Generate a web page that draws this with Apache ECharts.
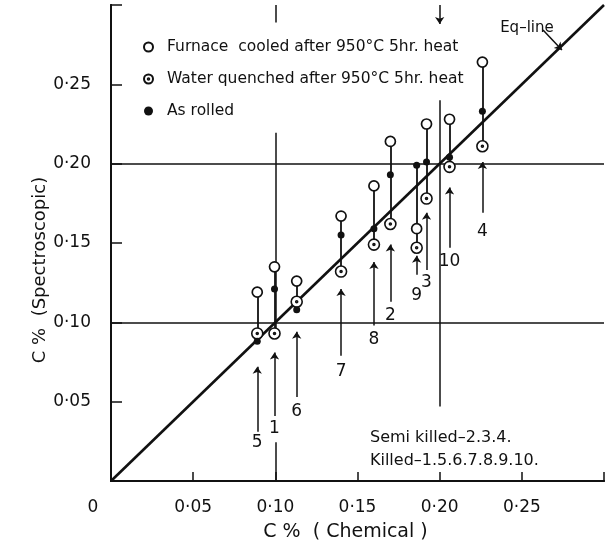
<!DOCTYPE html>
<html>
<head>
<meta charset="utf-8">
<script src="https://cdn.jsdelivr.net/npm/echarts@6/dist/echarts.min.js"></script>
<style>
  html, body { margin: 0; padding: 0; background: #fff; }
  #main_chart { width: 608px; height: 547px; }
</style>
</head>
<body>
<div id="main_chart"></div>
<script>
// 试样编号及化学分析 C%
var sampleNo = ['5', '1', '6', '7', '8', '2', '9', '3', '10', '4'];
var chemical = [0.089, 0.0995, 0.113, 0.140, 0.160, 0.170, 0.186, 0.192, 0.206, 0.226];
// 光谱分析 C%
var furnaceCooled = [0.119, 0.135, 0.126, 0.167, 0.186, 0.214, 0.159, 0.225, 0.228, 0.264];
var waterQuenched = [0.093, 0.093, 0.113, 0.132, 0.149, 0.162, 0.147, 0.178, 0.198, 0.211];
var asRolled = [0.088, 0.121, 0.108, 0.155, 0.159, 0.193, 0.199, 0.201, 0.204, 0.233];

// 编号箭头 (尾, 尖) 和编号位置
var arrowTail = [0.031, 0.041, 0.053, 0.079, 0.098, 0.113, 0.130, 0.133, 0.147, 0.169];
var arrowTip = [0.072, 0.081, 0.094, 0.121, 0.138, 0.149, 0.142, 0.169, 0.185, 0.201];
var labelY = [0.024, 0.033, 0.044, 0.069, 0.089, 0.104, 0.117, 0.125, 0.138, 0.157];

var refLevels = [0.10, 0.20];
// 0.10 / 0.20 处的竖线段
var refSegments = [
    [[0.10, 0.30], [0.10, 0.289]],
    [[0.10, 0.2195], [0.10, 0.093]],
    [[0.10, 0.0245], [0.10, 0]],
    [[0.20, 0.240], [0.20, 0.047]]
];
var topArrow = [[0.20, 0.30], [0.20, 0.288]];
var eqLine = [[0, 0], [0.30, 0.30]];
var eqLeader = [[0.2629, 0.2843], [0.2744, 0.2717]];
var eqLabelPos = [0.2531, 0.2855];
var noteLines = ['Semi killed\u20132.3.4.', 'Killed\u20131.5.6.7.8.9.10.'];
var notePos = [[0.1576, 0.0275], [0.1576, 0.0130]];

var FONT = 'DejaVu Sans';
var INK = '#111';

function fmtTick(v) {
    if (v === 0 || v >= 0.3) {
        return '';
    }
    return '0\u00b7' + Math.round(v * 100).toString().padStart(2, '0');
}

var stems = [];
var arrows = [];
var numLabels = [];
for (var i = 0; i < sampleNo.length; i++) {
    var vals = [furnaceCooled[i], waterQuenched[i], asRolled[i]];
    stems.push({coords: [[chemical[i], Math.min.apply(null, vals)], [chemical[i], Math.max.apply(null, vals)]]});
    arrows.push({coords: [[chemical[i], arrowTail[i]], [chemical[i], arrowTip[i]]]});
    numLabels.push({value: [chemical[i], labelY[i]], name: sampleNo[i]});
}

function pts(ys) {
    return chemical.map(function (x, k) { return [x, ys[k]]; });
}

var ringDot = 'path://M10,1A9,9,0,1,1,9.99,1Z M10,8.4A1.6,1.6,0,1,1,9.99,8.4Z';

var textLabel = function (size, pos) {
    return {show: true, position: pos, distance: 0, formatter: '{b}', fontFamily: FONT, fontSize: size, color: INK, opacity: 1};
};

var option = {
    animation: false,
    backgroundColor: '#fff',
    grid: {left: 111, right: 4, top: 5, bottom: 65},
    legend: {
        orient: 'vertical',
        left: 138,
        top: 34,
        itemWidth: 9,
        itemHeight: 9,
        itemGap: 16,
        selectedMode: false,
        textStyle: {fontFamily: FONT, fontSize: 15.5, color: INK, padding: [0, 0, 0, 9]},
        data: [
            {name: 'Furnace  cooled after 950\u00b0C 5hr. heat', icon: 'circle'},
            {name: 'Water quenched after 950\u00b0C 5hr. heat', icon: ringDot},
            {name: 'As rolled', icon: 'circle'}
        ]
    },
    xAxis: [{
        type: 'value', min: 0, max: 0.3, interval: 0.05,
        axisLine: {lineStyle: {color: INK, width: 2}},
        axisTick: {inside: true, length: 9, lineStyle: {color: INK, width: 1.5}},
        splitLine: {show: false},
        axisLabel: {
            margin: 18, fontSize: 17, color: INK, fontFamily: FONT,
            formatter: function (v) { return v === 0 ? '{z|0}' : fmtTick(v); },
            rich: {z: {fontSize: 17, color: INK, fontFamily: FONT, padding: [0, 36, 0, 0]}}
        },
        name: 'C %  ( Chemical )', nameLocation: 'middle', nameGap: 42,
        nameTextStyle: {fontFamily: FONT, fontSize: 19, color: INK, padding: [0, 24, 0, 0]}
    }, {
        type: 'value', position: 'top', min: 0, max: 0.3,
        axisLine: {lineStyle: {color: INK, width: 2}},
        axisTick: {show: false}, axisLabel: {show: false}, splitLine: {show: false}
    }],
    yAxis: [{
        type: 'value', min: 0, max: 0.3, interval: 0.05,
        axisLine: {lineStyle: {color: INK, width: 2}},
        axisTick: {inside: true, length: 11, lineStyle: {color: INK, width: 1.5}},
        splitLine: {show: false},
        axisLabel: {margin: 20, fontSize: 17, color: INK, fontFamily: FONT, formatter: fmtTick},
        name: 'C %  (Spectroscopic)', nameLocation: 'middle', nameGap: 62, nameMoveOverlap: false,
        nameTextStyle: {fontFamily: FONT, fontSize: 18, color: INK, padding: [0, 54, 0, 0]}
    }, {
        type: 'value', position: 'right', min: 0, max: 0.3,
        axisLine: {lineStyle: {color: INK, width: 2}},
        axisTick: {show: false}, axisLabel: {show: false}, splitLine: {show: false}
    }],
    series: [{
        // 参考线
        type: 'line', data: eqLine, symbol: 'none', silent: true,
        lineStyle: {color: INK, width: 2.6},
        markLine: {
            symbol: 'none', silent: true, label: {show: false},
            lineStyle: {color: INK, width: 1.5, type: 'solid'},
            data: refLevels.map(function (v) { return {yAxis: v}; })
        },
        z: 2
    }, {
        type: 'lines', coordinateSystem: 'cartesian2d', silent: true,
        data: refSegments.map(function (s) { return {coords: s}; }),
        lineStyle: {color: INK, width: 1.5, opacity: 1},
        z: 2
    }, {
        type: 'lines', coordinateSystem: 'cartesian2d', silent: true,
        data: stems,
        lineStyle: {color: INK, width: 1.8, opacity: 1},
        z: 3
    }, {
        type: 'lines', coordinateSystem: 'cartesian2d', silent: true,
        data: arrows.concat([{coords: eqLeader}, {coords: topArrow}]),
        symbol: ['none', 'arrow'], symbolSize: [0, 7],
        lineStyle: {color: INK, width: 1.5, opacity: 1},
        z: 3
    }, {
        name: 'Furnace  cooled after 950\u00b0C 5hr. heat',
        type: 'scatter', data: pts(furnaceCooled), symbol: 'circle', symbolSize: 10,
        itemStyle: {color: '#fff', borderColor: INK, borderWidth: 1.7, opacity: 1},
        z: 5
    }, {
        name: 'Water quenched after 950\u00b0C 5hr. heat',
        type: 'scatter', data: pts(waterQuenched), symbol: ringDot, symbolSize: 11,
        itemStyle: {color: '#fff', borderColor: INK, borderWidth: 1.6, opacity: 1},
        z: 5
    }, {
        name: 'As rolled',
        type: 'scatter', data: pts(asRolled), symbol: 'circle', symbolSize: 7,
        itemStyle: {color: INK, opacity: 1},
        z: 6
    }, {
        // 试样编号
        type: 'scatter', data: numLabels, symbolSize: 0, silent: true,
        itemStyle: {opacity: 1},
        label: textLabel(17, 'inside'),
        z: 6
    }, {
        type: 'scatter', silent: true, symbolSize: 0,
        itemStyle: {opacity: 1},
        data: [{value: eqLabelPos, name: 'Eq\u2013line'}],
        label: textLabel(15, 'inside'),
        z: 6
    }, {
        type: 'scatter', silent: true, symbolSize: 0,
        itemStyle: {opacity: 1},
        data: notePos.map(function (p, k) { return {value: p, name: noteLines[k]}; }),
        label: textLabel(16, 'right'),
        z: 6
    }]
};
echarts.init(document.getElementById('main_chart')).setOption(option);
</script>
</body>
</html>
